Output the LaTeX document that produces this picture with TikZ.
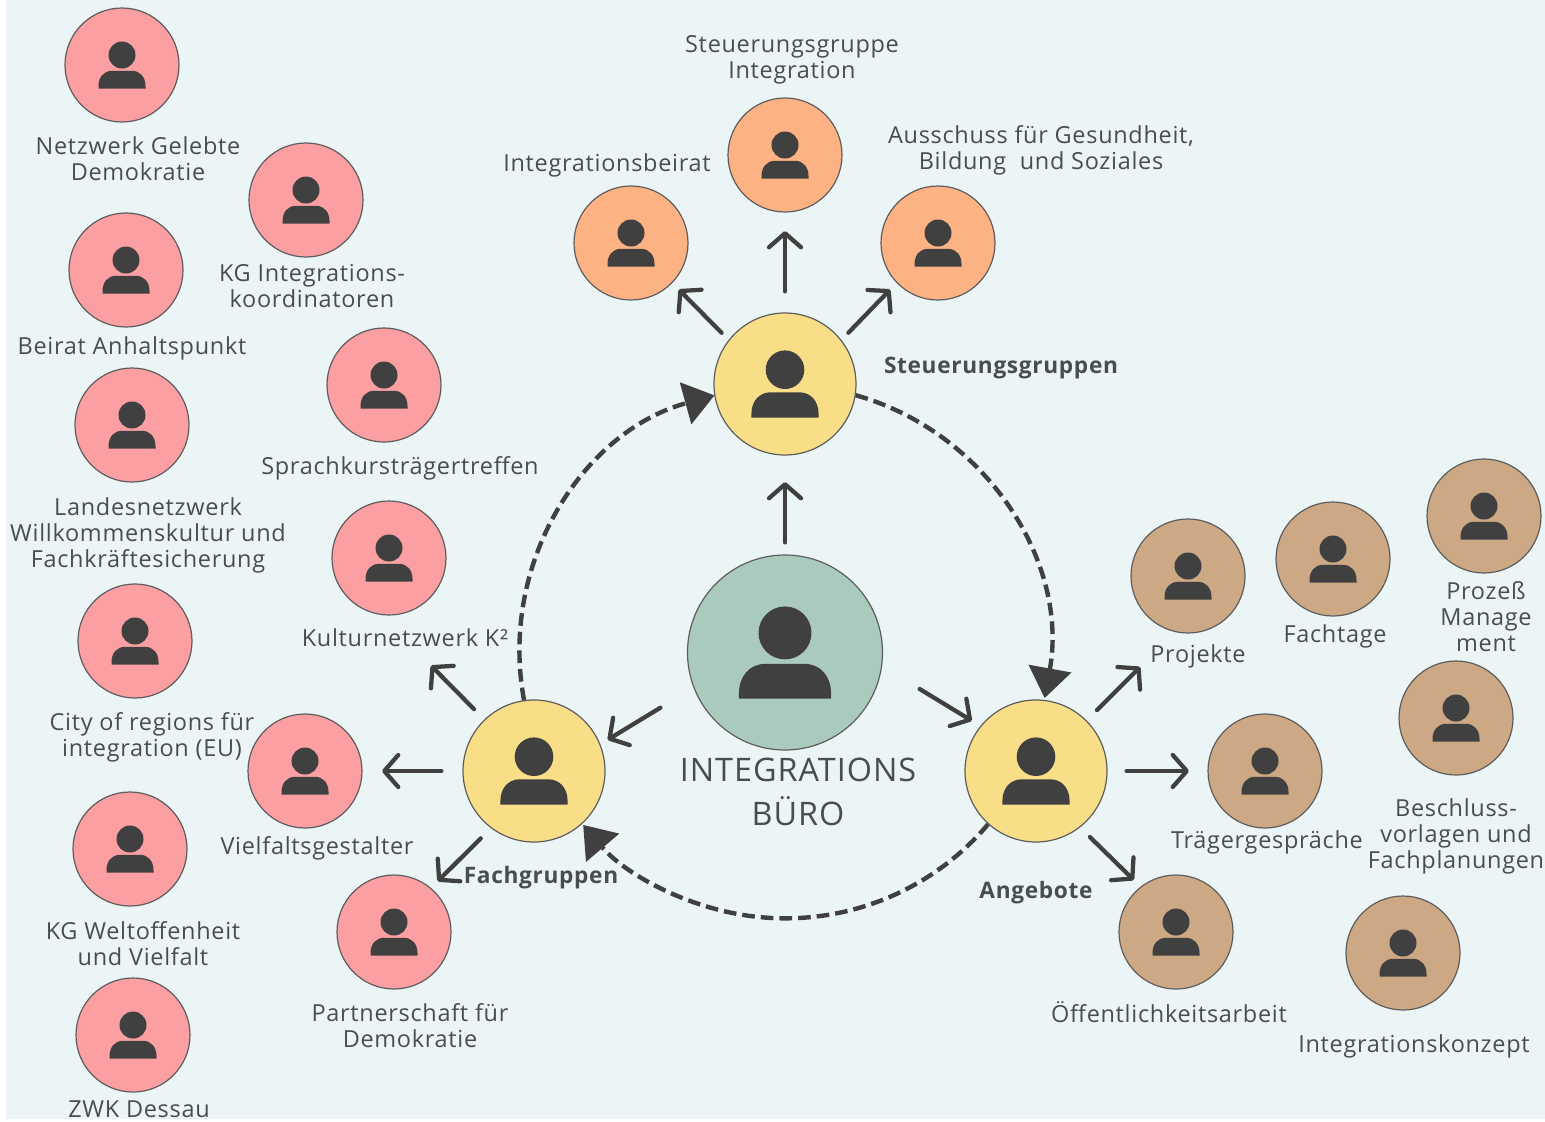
\documentclass[tikz,border=0pt]{standalone}
\usepackage{fontspec}
\setmainfont{Open Sans}[LetterSpace=3]
\usetikzlibrary{arrows.meta}
\definecolor{bgc}{HTML}{ECF5F6}
\definecolor{ink}{HTML}{404040}
\definecolor{txt}{HTML}{4A4D4E}
\definecolor{redc}{HTML}{FB9FA3}
\definecolor{orac}{HTML}{FDB283}
\definecolor{broc}{HTML}{CCA884}
\definecolor{yelc}{HTML}{F8DE87}
\definecolor{grec}{HTML}{A9CABC}
\tikzset{
  x=.75pt,y=-.75pt,
  disc/.style={circle,draw=ink!85,line width=.9pt,inner sep=0pt},
  psmall/.style={disc,minimum size=85.5pt},
  pyellow/.style={disc,fill=yelc,minimum size=106.5pt},
  pgreen/.style={disc,fill=grec,minimum size=146.25pt},
  lab/.style={text=txt,align=center,inner sep=0pt,yshift=-2.25pt,font=\fontsize{17.6}{19.5}\selectfont,
    execute at begin node=\strut,execute at end node=\strut},
  blab/.style={lab,font=\fontsize{17}{19.5}\selectfont\bfseries},
  biglab/.style={lab,font=\fontsize{24.3}{33}\selectfont},
  arr/.style={draw=ink,line width=3.2pt,line cap=round,
    -{Straight Barb[length=10.5pt,width=24pt,line width=3.2pt,round]}},
  gap/.style 2 args={shorten <=#1*.75pt,shorten >=(#2-2.5)*.75pt},
  dash line/.style={draw=ink,line width=3.3pt,dash pattern=on 9.5pt off 4.5pt,
    -{Triangle[length=22.5pt,width=32pt,fill=ink]}},
}
\newcommand{\person}[6]{% name, style, fill, x, y, scale
  \node[#2,fill=#3] (#1) at (#4,#5) {};
  \begin{scope}[shift={(#4,#5)},scale=#6]
    \fill[ink] (0,-10) circle[radius=13.5];
    \fill[ink] (-23.5,23.5) -- (-23.5,21) .. controls (-23.5,12) and (-18,5.8) .. (-10,5.8)
      -- (10,5.8) .. controls (18,5.8) and (23.5,12) .. (23.5,21) -- (23.5,23.5) -- cycle;
  \end{scope}}
\begin{document}
\begin{tikzpicture}
\useasboundingbox (0,0) rectangle (1545,1121);
\fill[bgc] (6,0) rectangle (1545,1119);
% red
\person{r1}{psmall}{redc}{122}{65}{1}
\person{r2}{psmall}{redc}{306}{200}{1}
\person{r3}{psmall}{redc}{126}{270}{1}
\person{r4}{psmall}{redc}{384}{385}{1}
\person{r5}{psmall}{redc}{132}{425}{1}
\person{r6}{psmall}{redc}{389}{558}{1}
\person{r7}{psmall}{redc}{135}{641}{1}
\person{r8}{psmall}{redc}{305}{771}{1}
\person{r9}{psmall}{redc}{130}{849}{1}
\person{r10}{psmall}{redc}{394}{932}{1}
\person{r11}{psmall}{redc}{133}{1035}{1}
% orange
\person{o1}{psmall}{orac}{631}{243}{1}
\person{o2}{psmall}{orac}{785}{155}{1}
\person{o3}{psmall}{orac}{938}{243}{1}
% brown
\person{b1}{psmall}{broc}{1188}{576}{1}
\person{b2}{psmall}{broc}{1333}{559}{1}
\person{b3}{psmall}{broc}{1484}{516}{1}
\person{b4}{psmall}{broc}{1456}{718}{1}
\person{b5}{psmall}{broc}{1265}{771}{1}
\person{b6}{psmall}{broc}{1176}{932}{1}
\person{b7}{psmall}{broc}{1403}{953}{1}
% hubs
\person{steu}{pyellow}{yelc}{785}{384}{1.43}
\person{fach}{pyellow}{yelc}{534}{771}{1.43}
\person{ang}{pyellow}{yelc}{1036}{771}{1.43}
\person{buero}{pgreen}{grec}{785}{652.5}{1.96}
% arrows
\draw[arr,gap={12}{29}] (buero.90) -- (steu.-90);
\draw[arr,gap={21}{21}] (steu.90) -- (o2.-90);
\draw[arr,gap={10}{11.6}] (steu.142) -- (o1.-44);
\draw[arr,gap={10}{11.6}] (steu.38) -- (o3.224);
\draw[arr,gap={38.6}{11}] (buero.201.8) -- (fach.22.8);
\draw[arr,gap={43.9}{12.5}] (buero.-8.1) -- (ang.141.2);
\draw[arr,gap={14.6}{51.8}] (ang.45.6) -- (b1.-103.6);
\draw[arr,gap={19}{21}] (ang.0) -- (b5.180);
\draw[arr,gap={13.7}{11.9}] (ang.-52.6) -- (b6.128.5);
\draw[arr,gap={14.6}{73.6}] (fach.134.5) -- (r6.-98.5);
\draw[arr,gap={21}{22}] (fach.180) -- (r8.0);
\draw[arr,gap={14.4}{11.8}] (fach.-127) -- (r10.50);
% dashed ring
\draw[dash line] (fach.98) arc[start angle=190.6,end angle=105.4,radius=199.1pt];
\draw[dash line] (steu.-9.5) arc[start angle=74.2,end angle=-10.3,radius=199.1pt];
\draw[dash line] (ang.-132.5) arc[start angle=-40.2,end angle=-139.6,radius=199.1pt];
% labels
\node[lab] (l1) at (138,159) {Netzwerk Gelebte\\Demokratie};
\node[lab] (l2) at (312,287) {KG Integrations-\\koordinatoren};
\node[lab] (l3) at (132,346) {Beirat Anhaltspunkt};
\node[lab] (l4) at (400,466) {Sprachkursträgertreffen};
\node[lab] (l5) at (148,533) {Landesnetzwerk\\Willkommenskultur und\\Fachkräftesicherung};
\node[lab] (l6) at (405,638) {Kulturnetzwerk K²};
\node[lab] (l7) at (152,735) {City of regions für\\integration (EU)};
\node[lab] (l8) at (317,846) {Vielfaltsgestalter};
\node[lab] (l9) at (143,944) {KG Weltoffenheit\\und Vielfalt};
\node[lab] (l10) at (410,1026) {Partnerschaft für\\Demokratie};
\node[lab] (l11) at (139,1109) {ZWK Dessau};
\node[blab] (l12) at (541,875) {Fachgruppen};
\node[blab] (l13) at (1001,365) {Steuerungsgruppen};
\node[blab] (l14) at (1036,890) {Angebote};
\node[lab] (l15) at (792,58) {Steuerungsgruppe\\Integration};
\node[lab] (l16) at (607,163) {Integrationsbeirat};
\node[lab] (l17) at (1041,148) {Ausschuss für Gesundheit,\\Bildung\ \ und Soziales};
\node[lab] (l18) at (1198,654) {Projekte};
\node[lab] (l19) at (1335,634) {Fachtage};
\node[lab] (l20) at (1486,617) {Prozeß\\Manage\\ment};
\node[lab] (l21) at (1456,834) {Beschluss-\\vorlagen und\\Fachplanungen};
\node[lab] (l22) at (1267,840) {Trägergespräche};
\node[lab] (l23) at (1169,1013) {Öffentlichkeitsarbeit};
\node[lab] (l24) at (1414,1044) {Integrationskonzept};
\node[biglab] (l25) at (798,795) {INTEGRATIONS\\BÜRO};
\end{tikzpicture}
\end{document}
